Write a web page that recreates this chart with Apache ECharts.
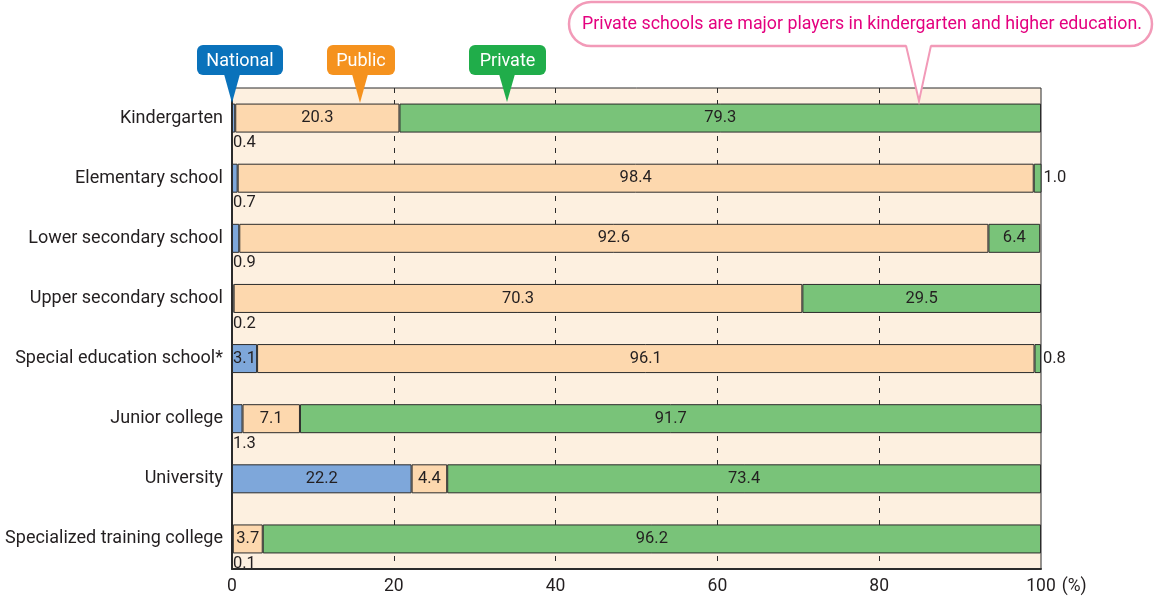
<!DOCTYPE html>
<html>
<head>
<meta charset="utf-8">
<title>Share of students by school type</title>
<script src="https://cdn.jsdelivr.net/npm/echarts@6.0.0/dist/echarts.min.js"></script>
<style>
  html, body { margin: 0; padding: 0; background: #ffffff; }
  #chart { width: 1155px; height: 608px; }
</style>
</head>
<body>
<div id="chart"></div>
<script>
// School types, top to bottom
const categories = [
  'Kindergarten',
  'Elementary school',
  'Lower secondary school',
  'Upper secondary school',
  'Special education school*',
  'Junior college',
  'University',
  'Specialized training college'
];

// Share of students (%) by establishing body
const nationalValues = [0.4, 0.7, 0.9, 0.2, 3.1, 1.3, 22.2, 0.1];
const publicValues   = [20.3, 98.4, 92.6, 70.3, 96.1, 7.1, 4.4, 3.7];
const privateValues  = [79.3, 1.0, 6.4, 29.5, 0.8, 91.7, 73.4, 96.2];

const xTicks = [0, 20, 40, 60, 80, 100];

const FONT = "Roboto, 'Liberation Sans', sans-serif";
const TEXT = '#231f20';
const EDGE = '#2b2b2b';

const chart = echarts.init(document.getElementById('chart'), null, { renderer: 'canvas' });

// Narrow segments get their label placed outside the bar
function national(v) {
  if (v < 2) {
    return { value: v, label: { position: [0, '100%'], offset: [1, 2], align: 'left', verticalAlign: 'top' } };
  }
  return { value: v };
}
function privateItem(v) {
  if (v < 2) {
    return { value: v, label: { position: 'right', distance: 2 } };
  }
  return { value: v };
}

const baseLabel = {
  show: true,
  color: TEXT,
  fontFamily: FONT,
  fontSize: 16.5,
  formatter: p => p.value.toFixed(1)
};

function series(name, data, color) {
  return {
    name,
    type: 'bar',
    stack: 'total',
    barWidth: 29,
    data,
    itemStyle: { color, borderColor: EDGE, borderWidth: 1 },
    label: Object.assign({ position: 'inside' }, baseLabel),
    emphasis: { disabled: true },
    animation: false
  };
}

// Callout tag: rounded box with a pointer underneath
function tag(text, color, x, w, tipX, tipY) {
  const y = 45, h = 30;
  return [
    { type: 'rect', shape: { x, y, width: w, height: h, r: 6 }, style: { fill: color }, z: 10 },
    { type: 'polygon', shape: { points: [[tipX - 8, y + h - 1], [tipX + 8, y + h - 1], [tipX, tipY]] }, style: { fill: color }, z: 10 },
    { type: 'text', x: x + w / 2, y: y + h / 2 + 1, style: { text, fill: '#ffffff', font: '18px ' + FONT, align: 'center', verticalAlign: 'middle' }, z: 11 }
  ];
}

const note = 'Private schools are major players in kindergarten and higher education.';
const pink = '#f29ab8';

const option = {
  backgroundColor: '#ffffff',
  textStyle: { fontFamily: FONT },
  grid: {
    left: 232, right: 114, top: 88, bottom: 39,
    outerBoundsMode: 'none',
    show: true,
    backgroundColor: '#fdf0e0',
    borderColor: EDGE,
    borderWidth: 1
  },
  xAxis: {
    type: 'value',
    min: 0, max: 100, interval: 20,
    name: '(%)',
    nameLocation: 'end',
    nameGap: 19,
    nameTextStyle: { color: TEXT, fontSize: 17.5, fontFamily: FONT, verticalAlign: 'top', padding: [9, 0, 0, 0] },
    axisLine: { show: true, lineStyle: { color: EDGE, width: 2 } },
    axisTick: { show: false },
    axisLabel: {
      color: TEXT, fontSize: 17.5, fontFamily: FONT, margin: 9,
      formatter: v => xTicks.includes(v) ? String(v) : ''
    },
    splitLine: {
      show: true, showMinLine: false, showMaxLine: false,
      lineStyle: { color: EDGE, type: [5, 7], width: 1 }
    }
  },
  yAxis: {
    type: 'category',
    data: categories,
    inverse: true,
    axisLine: { show: true, lineStyle: { color: EDGE, width: 2 } },
    axisTick: { show: false },
    axisLabel: { color: TEXT, fontSize: 18, fontFamily: FONT, margin: 9 },
    splitLine: { show: false }
  },
  series: [
    series('National', nationalValues.map(national), '#7ea7da'),
    series('Public', publicValues.map(v => ({ value: v })), '#fdd8ae'),
    series('Private', privateValues.map(privateItem), '#79c379')
  ],
  graphic: [
    ...tag('National', '#0a72bb', 197, 86, 232, 103),
    ...tag('Public', '#f5921e', 327, 68, 360, 103),
    ...tag('Private', '#20ad4a', 469, 77, 507, 102),
    // Speech bubble with the headline note
    { type: 'rect', shape: { x: 569, y: 2, width: 583, height: 44, r: 22 }, style: { fill: '#ffffff', stroke: pink, lineWidth: 2.5 }, z: 10 },
    { type: 'polygon', shape: { points: [[906, 44], [931, 44], [919, 100]] }, style: { fill: '#ffffff' }, z: 11 },
    { type: 'polyline', shape: { points: [[906, 45.5], [919, 101], [931, 45.5]] }, style: { stroke: pink, lineWidth: 2, fill: null }, z: 12 },
    { type: 'text', x: 862, y: 25, style: { text: note, fill: '#e4007f', font: '17.8px ' + FONT, align: 'center', verticalAlign: 'middle' }, z: 13 }
  ]
};

chart.setOption(option);
</script>
</body>
</html>
